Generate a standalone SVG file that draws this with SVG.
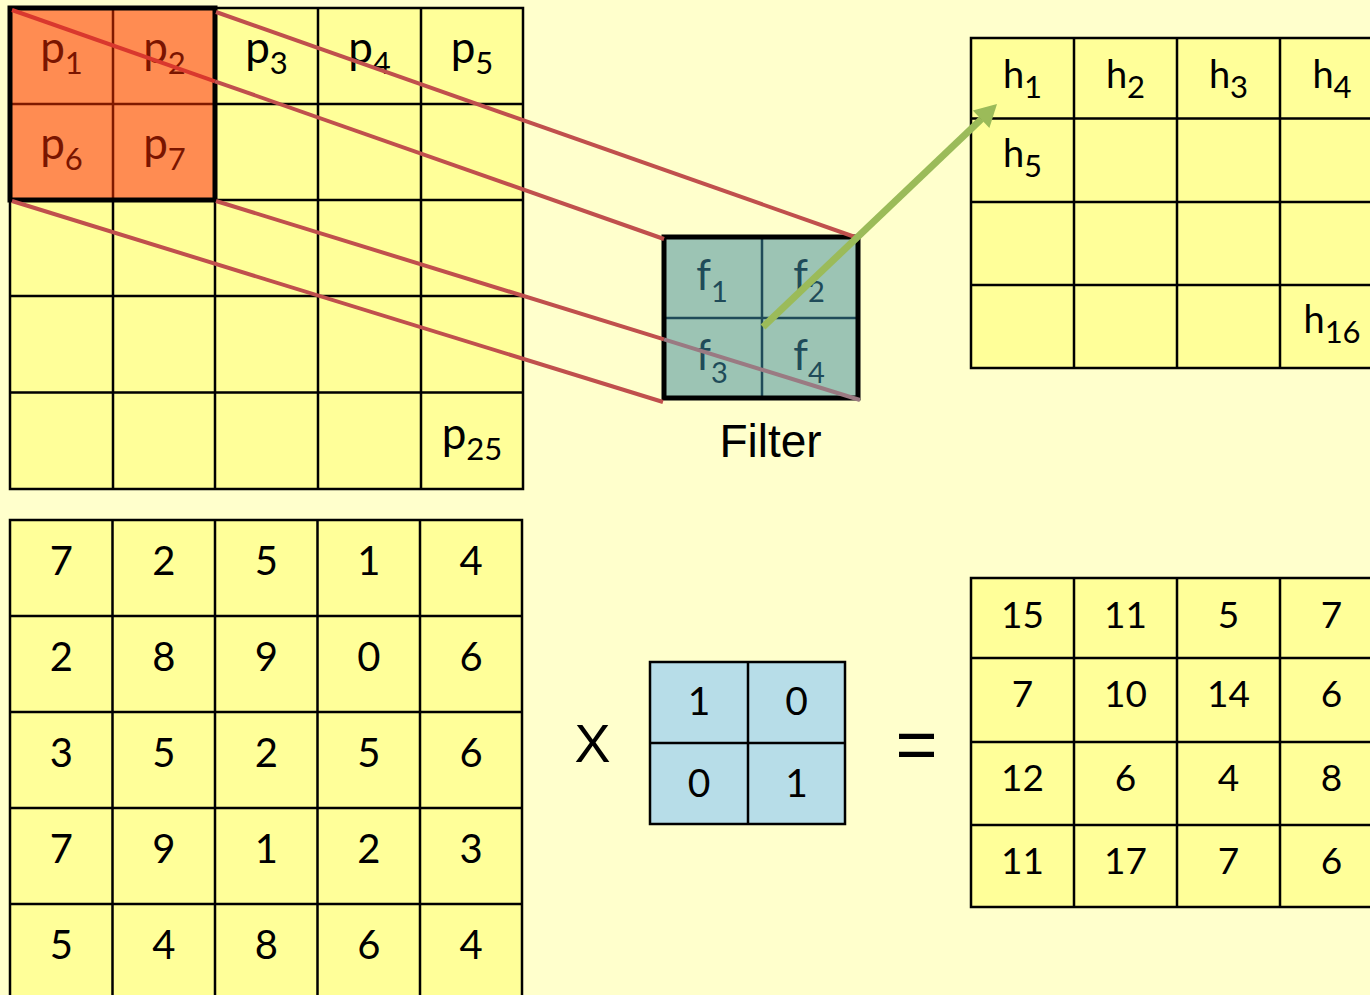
<svg xmlns="http://www.w3.org/2000/svg" width="1370" height="995" viewBox="0 0 1370 995">
<style>
.cell{fill:#FFFF99;stroke:#000;stroke-width:2.5}
.gl{fill:none;stroke:#000;stroke-width:2.5}
.lab{font-family:Lato,"Open Sans",sans-serif;fill:#000;text-anchor:middle}
.p{font-size:44px}
.h{font-size:38px}
.f{font-size:42px;fill:#1F4B59}
.sub{font-size:31px}
.fsub{font-size:29px}
.num{font-size:40px}
.rnum{font-size:37px}
.bnum{font-size:39px}
.dk{fill:#7A1500}
.red{fill:none;stroke:#C0504D;stroke-width:4}
</style>
<rect x="0" y="0" width="1370" height="995" fill="#FFFFCC"/>

<g id="input-grid">
<rect class="cell" x="10" y="8" width="513" height="481"/>
<path class="gl" d="M113,8V489M215,8V489M318,8V489M421,8V489M10,104H523M10,200H523M10,296H523M10,392.5H523"/>
<text class="lab p" x="266.5" y="62.5">p<tspan class="sub" dy="11">3</tspan></text>
<text class="lab p" x="369.5" y="62.5">p<tspan class="sub" dy="11">4</tspan></text>
<text class="lab p" x="472" y="62.5">p<tspan class="sub" dy="11">5</tspan></text>
<text class="lab p" x="472" y="449">p<tspan class="sub" dy="11">25</tspan></text>
</g>

<g id="receptive-field">
<rect x="10" y="8" width="205" height="192" fill="#FF8C52"/>
<path d="M113,8V200M10,104H215" fill="none" stroke="#7F1A00" stroke-width="2.5"/>
<rect x="10" y="8" width="205" height="192" fill="none" stroke="#000" stroke-width="5"/>
<text class="lab p dk" x="61.5" y="62.5">p<tspan class="sub" dy="11">1</tspan></text>
<text class="lab p dk" x="164.5" y="62.5">p<tspan class="sub" dy="11">2</tspan></text>
<text class="lab p dk" x="61.5" y="158.7">p<tspan class="sub" dy="11">6</tspan></text>
<text class="lab p dk" x="164.5" y="158.7">p<tspan class="sub" dy="11">7</tspan></text>
</g>

<g id="filter">
<rect x="664" y="237" width="194" height="161" fill="#9CC4B4"/>
<path d="M762,237V398M664,318H858" fill="none" stroke="#1F4B59" stroke-width="2.5"/>
<rect x="664" y="237" width="194" height="161" fill="none" stroke="#000" stroke-width="5"/>
<text class="lab f" x="712" y="290">f<tspan class="fsub" dy="12">1</tspan></text>
<text class="lab f" x="809" y="290">f<tspan class="fsub" dy="12">2</tspan></text>
<text class="lab f" x="712" y="370">f<tspan class="fsub" dy="13">3</tspan></text>
<text class="lab f" x="809" y="370">f<tspan class="fsub" dy="13">4</tspan></text>
<text x="770.5" y="457" font-family="'Liberation Sans',Arial,sans-serif" font-size="46" text-anchor="middle" fill="#000">Filter</text>
</g>

<g id="feature-map">
<rect class="cell" x="971" y="38" width="412" height="330"/>
<path class="gl" d="M1074,38V368M1177,38V368M1280,38V368M971,118.5H1383M971,202H1383M971,285H1383"/>
<text class="lab h" x="1022.5" y="88.3">h<tspan class="sub" dy="10">1</tspan></text>
<text class="lab h" x="1125.5" y="88.3">h<tspan class="sub" dy="10">2</tspan></text>
<text class="lab h" x="1228.5" y="88.3">h<tspan class="sub" dy="10">3</tspan></text>
<text class="lab h" x="1332" y="88.3">h<tspan class="sub" dy="10">4</tspan></text>
<text class="lab h" x="1022.5" y="166.7">h<tspan class="sub" dy="10">5</tspan></text>
<text class="lab h" x="1332" y="333.3">h<tspan class="sub" dy="10">16</tspan></text>
</g>

<g id="input-values">
<rect class="cell" x="10" y="520" width="512" height="490"/>
<path class="gl" d="M112.5,520V1000M215,520V1000M317.5,520V1000M420,520V1000M10,616H522M10,712H522M10,808H522M10,904H522"/>
<g class="lab num">
<text x="61.3" y="575">7</text><text x="163.8" y="575">2</text><text x="266.3" y="575">5</text><text x="368.8" y="575">1</text><text x="471" y="575">4</text>
<text x="61.3" y="671">2</text><text x="163.8" y="671">8</text><text x="266.3" y="671">9</text><text x="368.8" y="671">0</text><text x="471" y="671">6</text>
<text x="61.3" y="767">3</text><text x="163.8" y="767">5</text><text x="266.3" y="767">2</text><text x="368.8" y="767">5</text><text x="471" y="767">6</text>
<text x="61.3" y="863">7</text><text x="163.8" y="863">9</text><text x="266.3" y="863">1</text><text x="368.8" y="863">2</text><text x="471" y="863">3</text>
<text x="61.3" y="959">5</text><text x="163.8" y="959">4</text><text x="266.3" y="959">8</text><text x="368.8" y="959">6</text><text x="471" y="959">4</text>
</g>
</g>

<g id="times">
<text x="592.5" y="762" font-family="'Liberation Sans',Arial,sans-serif" font-size="54" text-anchor="middle" fill="#000">X</text>
</g>

<g id="kernel-values">
<rect x="650" y="662" width="195" height="162" fill="#B7DDE8" stroke="#000" stroke-width="2.5"/>
<path class="gl" d="M748,662V824M650,743H845"/>
<g class="lab bnum">
<text x="699" y="715">1</text><text x="796.5" y="715">0</text>
<text x="699" y="797">0</text><text x="796.5" y="797">1</text>
</g>
</g>

<g id="equals">
<text x="916.5" y="769" font-family="'Liberation Sans',Arial,sans-serif" font-size="72" text-anchor="middle" fill="#000">=</text>
</g>

<g id="output-values">
<rect class="cell" x="971" y="578" width="412" height="329"/>
<path class="gl" d="M1074,578V907M1177,578V907M1280,578V907M971,658H1383M971,742H1383M971,825H1383"/>
<g class="lab rnum">
<text x="1022.5" y="628">15</text><text x="1125.5" y="628">11</text><text x="1228.5" y="628">5</text><text x="1331.5" y="628">7</text>
<text x="1022.5" y="707">7</text><text x="1125.5" y="707">10</text><text x="1228.5" y="707">14</text><text x="1331.5" y="707">6</text>
<text x="1022.5" y="791">12</text><text x="1125.5" y="791">6</text><text x="1228.5" y="791">4</text><text x="1331.5" y="791">8</text>
<text x="1022.5" y="874">11</text><text x="1125.5" y="874">17</text><text x="1228.5" y="874">7</text><text x="1331.5" y="874">6</text>
</g>
</g>

<g id="connectors">
<path d="M12,10L215,81.3" fill="none" stroke="#D9382E" stroke-width="4"/>
<path class="red" d="M215,81.3L664,239"/>
<path class="red" d="M216,12L855,237"/>
<path class="red" d="M12,201L663,402"/>
<path class="red" d="M216,201L664,339.4"/>
<path d="M664,339.4L860,400" fill="none" stroke="#9A7A82" stroke-width="4"/>
<path d="M763,327L981.5,119" fill="none" stroke="#9BBB59" stroke-width="7"/>
<polygon points="997,104 972.8,110.5 989.4,127.9" fill="#9BBB59"/>
</g>
</svg>
